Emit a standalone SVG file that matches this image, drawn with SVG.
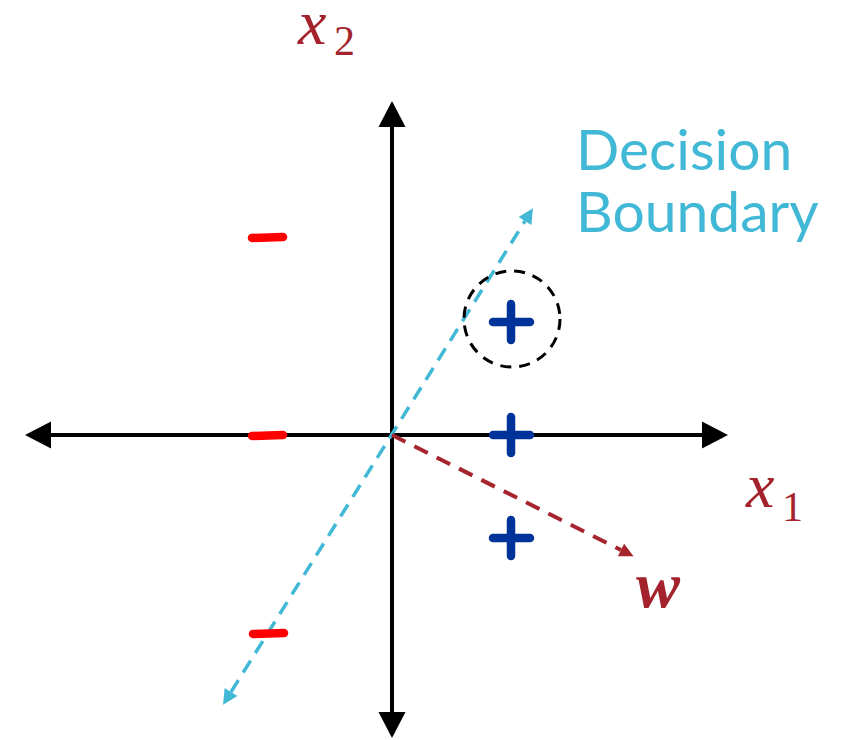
<svg xmlns="http://www.w3.org/2000/svg" width="856" height="740" viewBox="0 0 856 740">
<style>
.axis{stroke:#000;stroke-width:4;fill:none}
.boundary{stroke:#41B8D5;stroke-width:3.5;stroke-dasharray:14 9;fill:none}
.wvec{stroke:#A6242C;stroke-width:4;stroke-dasharray:15 10;fill:none}
.plus{stroke:#003399;stroke-width:8.5;stroke-linecap:round;fill:none}
.minus{stroke:#FF0000;stroke-width:8.5;stroke-linecap:round;fill:none}
.var{font-family:"Liberation Serif",serif;font-style:italic;fill:#A3222B}
.sub{font-family:"Liberation Serif",serif;fill:#A3222B}
.label{font-family:Lato,"Liberation Sans",sans-serif;fill:#41B8D5;font-size:57px}
</style>
<defs>
<marker id="axhead" markerUnits="userSpaceOnUse" markerWidth="28" markerHeight="28" refX="0" refY="13.5" orient="auto-start-reverse" overflow="visible">
<path d="M0,0 L26,13.5 L0,27 Z" fill="#000"/>
</marker>
<marker id="bhead" markerUnits="userSpaceOnUse" markerWidth="16" markerHeight="16" refX="0" refY="7.5" orient="auto-start-reverse" overflow="visible">
<path d="M0,0 L15,7.5 L0,15 Z" fill="#41B8D5"/>
</marker>
<marker id="whead" markerUnits="userSpaceOnUse" markerWidth="16" markerHeight="16" refX="0" refY="7" orient="auto" overflow="visible">
<path d="M0,0 L14,7 L0,14 Z" fill="#A6242C"/>
</marker>
</defs>
<g id="connectors">
<line id="x-axis" class="axis" x1="51" y1="435" x2="702" y2="435" marker-start="url(#axhead)" marker-end="url(#axhead)"/>
<line id="y-axis" class="axis" x1="392" y1="127" x2="392" y2="712" marker-start="url(#axhead)" marker-end="url(#axhead)"/>
<line id="decision-boundary" class="boundary" x1="231" y1="692" x2="525" y2="221" marker-start="url(#bhead)" marker-end="url(#bhead)"/>
<line id="w-vector" class="wvec" x1="392" y1="435" x2="621" y2="550" marker-end="url(#whead)"/>
</g>
<g id="highlight-circle">
<circle cx="512" cy="319" r="48" fill="none" stroke="#000" stroke-width="3" stroke-dasharray="11 8"/>
</g>
<g id="plus1"><path class="plus" d="M493,322 H530 M511,304 V340"/></g>
<g id="plus2"><path class="plus" d="M493,435 H530 M511,417 V453"/></g>
<g id="plus3"><path class="plus" d="M493,538 H530 M511,520 V556"/></g>
<g id="minus1"><path class="minus" d="M252,238 L283,237"/></g>
<g id="minus2"><path class="minus" d="M252,436 L283,435"/></g>
<g id="minus3"><path class="minus" d="M253,634 L284,633"/></g>
<g id="label-x2"><text class="var" x="298" y="44" font-size="64">x</text><text class="sub" x="334" y="55" font-size="42">2</text></g>
<g id="label-x1"><text class="var" x="746" y="507" font-size="64">x</text><text class="sub" x="782" y="521" font-size="42">1</text></g>
<g id="label-w"><text class="var" x="636" y="607" font-size="66" font-weight="bold">w</text></g>
<g id="label-boundary"><text class="label" x="576" y="170">Decision</text><text class="label" x="576" y="232">Boundary</text></g>
</svg>
